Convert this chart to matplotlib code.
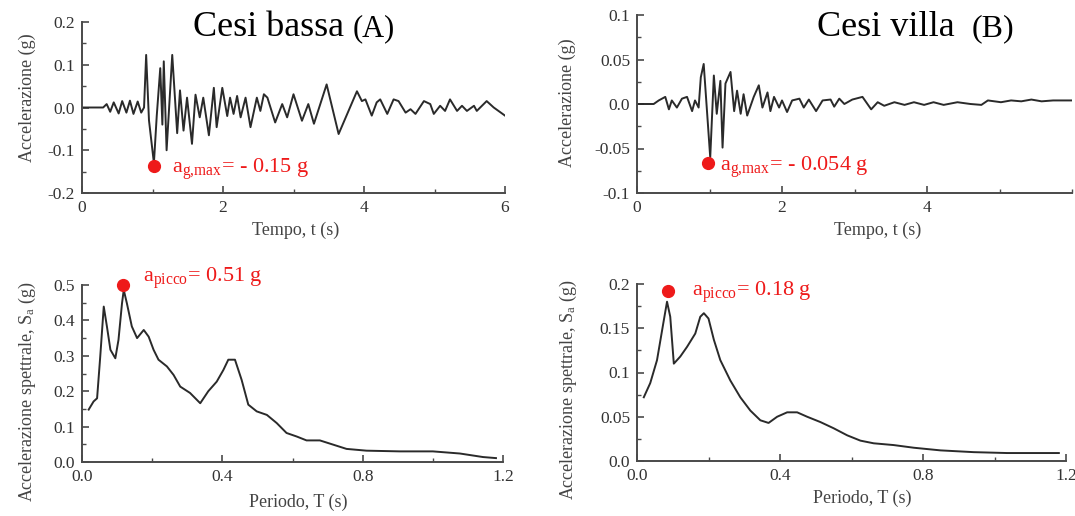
import matplotlib
matplotlib.use('Agg')
import matplotlib.pyplot as plt
from matplotlib.ticker import MultipleLocator

plt.rcParams['font.family'] = ['Liberation Serif', 'DejaVu Serif']
plt.rcParams['mathtext.fontset'] = 'custom'
plt.rcParams['mathtext.rm'] = 'Liberation Serif'
plt.rcParams['mathtext.it'] = 'Liberation Serif:italic'

# --- accelerogramma Cesi bassa (A)
t_a = [0.0, 0.30, 0.35, 0.40, 0.45, 0.52, 0.57, 0.63, 0.68, 0.73, 0.79, 0.84, 0.88,
       0.91, 0.95, 1.02, 1.06, 1.11, 1.14, 1.16, 1.20, 1.28, 1.35, 1.39, 1.44, 1.49,
       1.56, 1.61, 1.67, 1.72, 1.80, 1.87, 1.91, 1.99, 2.06, 2.10, 2.15, 2.20, 2.25,
       2.32, 2.39, 2.48, 2.53, 2.58, 2.63, 2.74, 2.84, 2.91, 3.00, 3.12, 3.21, 3.29,
       3.47, 3.64, 3.90, 3.97, 4.02, 4.11, 4.18, 4.23, 4.33, 4.42, 4.49, 4.59, 4.66,
       4.73, 4.85, 4.94, 4.99, 5.08, 5.15, 5.22, 5.32, 5.39, 5.46, 5.56, 5.60, 5.74,
       5.84, 6.00]
acc_a = [0.0, 0.0, 0.008, -0.010, 0.012, -0.014, 0.015, -0.012, 0.016, -0.015, 0.014,
         -0.012, 0.0, 0.123, -0.030, -0.130, -0.020, 0.092, -0.040, 0.108, -0.100, 0.123,
         -0.060, 0.040, -0.054, 0.023, -0.085, 0.030, -0.023, 0.023, -0.065, 0.046,
         -0.046, 0.046, -0.020, 0.023, -0.015, 0.027, -0.023, 0.023, -0.046, 0.023,
         -0.008, 0.031, 0.023, -0.035, 0.008, -0.023, 0.031, -0.031, 0.008, -0.038,
         0.054, -0.062, 0.038, 0.015, 0.019, -0.019, 0.012, 0.019, -0.015, 0.019, 0.015,
         -0.012, -0.004, -0.015, 0.015, 0.008, -0.015, 0.004, -0.008, 0.019, -0.008,
         0.004, -0.008, 0.004, -0.008, 0.015, 0.0, -0.019]

# --- accelerogramma Cesi villa (B)
t_b = [0.0, 0.23, 0.30, 0.39, 0.44, 0.48, 0.55, 0.62, 0.69, 0.76, 0.80, 0.85, 0.88,
       0.92, 1.01, 1.06, 1.10, 1.15, 1.18, 1.22, 1.29, 1.34, 1.38, 1.43, 1.47, 1.52,
       1.61, 1.68, 1.73, 1.80, 1.84, 1.89, 1.96, 2.00, 2.07, 2.14, 2.24, 2.30, 2.37,
       2.47, 2.56, 2.67, 2.72, 2.79, 2.86, 2.97, 3.11, 3.23, 3.32, 3.41, 3.55, 3.69,
       3.82, 3.96, 4.09, 4.23, 4.42, 4.60, 4.75, 4.84, 5.02, 5.16, 5.30, 5.44, 5.58,
       5.74, 6.00]
acc_b = [0.0, 0.0, 0.004, 0.008, -0.006, 0.004, -0.004, 0.006, 0.008, -0.008, 0.004,
         -0.004, 0.030, 0.045, -0.060, 0.032, -0.011, 0.026, -0.049, 0.023, 0.036,
         -0.008, 0.015, -0.011, 0.011, -0.013, 0.008, 0.021, -0.004, 0.013, -0.008,
         0.008, -0.004, 0.004, -0.009, 0.004, 0.006, -0.004, 0.005, -0.008, 0.004,
         0.005, -0.003, 0.006, 0.0, 0.005, 0.008, -0.006, 0.002, -0.002, 0.002, -0.001,
         0.002, -0.001, 0.002, -0.001, 0.002, 0.0, -0.001, 0.004, 0.002, 0.004, 0.003,
         0.005, 0.003, 0.004, 0.004]

# --- spettri di risposta
T_a = [0.019, 0.033, 0.043, 0.052, 0.062, 0.071, 0.081, 0.095, 0.104, 0.114, 0.119,
       0.128, 0.142, 0.157, 0.176, 0.190, 0.204, 0.218, 0.242, 0.261, 0.280, 0.308,
       0.337, 0.360, 0.384, 0.403, 0.417, 0.436, 0.455, 0.474, 0.498, 0.527, 0.555,
       0.583, 0.612, 0.640, 0.678, 0.716, 0.754, 0.811, 0.906, 1.000, 1.077, 1.143, 1.180]
Sa_a = [0.148, 0.171, 0.180, 0.298, 0.439, 0.383, 0.317, 0.293, 0.345, 0.448, 0.486,
        0.448, 0.383, 0.350, 0.373, 0.354, 0.317, 0.289, 0.270, 0.246, 0.213, 0.195,
        0.166, 0.200, 0.227, 0.260, 0.289, 0.289, 0.232, 0.162, 0.143, 0.133, 0.110,
        0.082, 0.072, 0.061, 0.061, 0.049, 0.037, 0.032, 0.030, 0.030, 0.024, 0.014, 0.011]

T_b = [0.019, 0.037, 0.056, 0.075, 0.084, 0.093, 0.103, 0.121, 0.140, 0.163, 0.177,
       0.187, 0.200, 0.215, 0.233, 0.261, 0.289, 0.317, 0.345, 0.368, 0.392, 0.420,
       0.448, 0.476, 0.513, 0.550, 0.588, 0.625, 0.662, 0.718, 0.774, 0.849, 0.942,
       1.035, 1.180]
Sa_b = [0.072, 0.088, 0.114, 0.159, 0.180, 0.163, 0.110, 0.118, 0.129, 0.144, 0.163,
        0.167, 0.161, 0.137, 0.114, 0.091, 0.072, 0.057, 0.046, 0.043, 0.050, 0.055,
        0.055, 0.050, 0.044, 0.037, 0.029, 0.023, 0.020, 0.018, 0.015, 0.012, 0.010,
        0.009, 0.009]

# punti evidenziati (x, y)
pk_a_acc = (1.02, -0.137)
pk_b_acc = (0.98, -0.066)
pk_a_spec = (0.117, 0.50)
pk_b_spec = (0.087, 0.192)

W, H = 1075, 516
fig = plt.figure(figsize=(W / 100, H / 100), dpi=100)

def px_axes(x0, y0, x1, y1):
    return fig.add_axes([x0 / W, 1 - y1 / H, (x1 - x0) / W, (y1 - y0) / H])

LC = '#2a2a2a'
RED = '#ee1a1a'
GR = '#333333'

def style(ax, xmaj, xmin, ymaj, ymin, xlab, ylab, yfmt):
    for s in ['top', 'right']:
        ax.spines[s].set_visible(False)
    for s in ['left', 'bottom']:
        ax.spines[s].set_color('#4a4a4a')
        ax.spines[s].set_linewidth(1.4)
    ax.xaxis.set_major_locator(MultipleLocator(xmaj))
    ax.xaxis.set_minor_locator(MultipleLocator(xmin))
    ax.yaxis.set_major_locator(MultipleLocator(ymaj))
    ax.yaxis.set_minor_locator(MultipleLocator(ymin))
    ax.tick_params(which='major', direction='in', length=5, width=1.2, color='#4a4a4a',
                   labelsize=12.5, labelcolor=GR, pad=5)
    ax.tick_params(which='minor', direction='in', length=3, width=1.0, color='#4a4a4a')
    ax.yaxis.set_major_formatter(plt.FuncFormatter(lambda v, p: yfmt.format(v)))
    ax.set_xlabel(xlab, fontsize=13, color='#444444')
    ax.set_ylabel(ylab, fontsize=13, color='#444444')
    ax.xaxis.label.set_va('center')
    ax.yaxis.label.set_va('center')
    ax.patch.set_alpha(0)

# Cesi bassa - accelerogramma
ax1 = px_axes(82, 22, 505, 193)
ax1.plot(t_a, acc_a, color=LC, lw=1.4)
ax1.set_xlim(0, 6)
ax1.set_ylim(-0.2, 0.2)
style(ax1, 2, 1, 0.1, 0.05, 'Tempo, t (s)', 'Accelerazione (g)', '{:.1f}')
ax1.xaxis.set_major_formatter(plt.FuncFormatter(lambda v, p: '%d' % v))
ax1.xaxis.set_label_coords(0.504, -0.216)
ax1.yaxis.set_label_coords(-0.13, 0.56)
ax1.plot(*pk_a_acc, 'o', color=RED, ms=8.5, clip_on=False)
ax1.text(1.28, -0.153, r'a$_{\mathregular{g{,}max}}$= - 0.15 g', color=RED, fontsize=16)

# Cesi villa - accelerogramma
ax2 = px_axes(637, 15, 1072, 193)
ax2.plot(t_b, acc_b, color=LC, lw=1.4)
ax2.set_xlim(0, 6)
ax2.set_ylim(-0.1, 0.1)
style(ax2, 2, 1, 0.05, 0.025, 'Tempo, t (s)', 'Accelerazione (g)', '{:.2f}')
ax2.set_xticks([0, 2, 4])
ax2.xaxis.set_major_formatter(plt.FuncFormatter(lambda v, p: '%d' % v))
ax2.yaxis.set_major_formatter(plt.FuncFormatter(
    lambda v, p: '{:.1f}'.format(v) if abs(abs(v) - 0.1) < 1e-6 or abs(v) < 1e-6 else '{:.2f}'.format(v)))
ax2.xaxis.set_label_coords(0.554, -0.208)
ax2.yaxis.set_label_coords(-0.159, 0.51)
ax2.plot(*pk_b_acc, 'o', color=RED, ms=8.5, clip_on=False)
ax2.text(1.14, -0.0755, r'a$_{\mathregular{g{,}max}}$= - 0.054 g', color=RED, fontsize=16)

# Cesi bassa - spettro
ax3 = px_axes(82, 285, 503, 462)
ax3.plot(T_a, Sa_a, color=LC, lw=1.4)
ax3.set_xlim(0, 1.2)
ax3.set_ylim(0, 0.5)
style(ax3, 0.4, 0.2, 0.1, 0.05, 'Periodo, T (s)', r'Accelerazione spettrale, S$_{\mathregular{a}}$ (g)', '{:.1f}')
ax3.xaxis.set_major_formatter(plt.FuncFormatter(lambda v, p: '%.1f' % v))
ax3.xaxis.set_label_coords(0.513, -0.226)
ax3.yaxis.set_label_coords(-0.13, 0.395)
ax3.plot(*pk_a_spec, 'o', color=RED, ms=8.5, clip_on=False)
ax3.text(0.174, 0.508, r'a$_{\mathregular{picco}}$= 0.51 g', color=RED, fontsize=16)

# Cesi villa - spettro
ax4 = px_axes(637, 284, 1066, 461)
ax4.plot(T_b, Sa_b, color=LC, lw=1.4)
ax4.set_xlim(0, 1.2)
ax4.set_ylim(0, 0.2)
style(ax4, 0.4, 0.2, 0.05, 0.025, 'Periodo, T (s)', r'Accelerazione spettrale, S$_{\mathregular{a}}$ (g)', '{:.2f}')
ax4.yaxis.set_major_formatter(plt.FuncFormatter(
    lambda v, p: '{:.1f}'.format(v) if abs(v - 0.1) < 1e-6 or abs(v - 0.2) < 1e-6 or abs(v) < 1e-6 else '{:.2f}'.format(v)))
ax4.xaxis.set_major_formatter(plt.FuncFormatter(lambda v, p: '%.1f' % v))
ax4.xaxis.set_label_coords(0.524, -0.209)
ax4.yaxis.set_label_coords(-0.159, 0.40)
ax4.plot(*pk_b_spec, 'o', color=RED, ms=8.5, clip_on=False)
ax4.text(0.154, 0.186, r'a$_{\mathregular{picco}}$= 0.18 g', color=RED, fontsize=16)

# titoli
fig.text(193 / W, 1 - 36 / H, 'Cesi bassa', fontsize=26, va='baseline')
fig.text(353 / W, 1 - 36 / H, '(A)', fontsize=22, va='baseline')
fig.text(817 / W, 1 - 36 / H, 'Cesi villa', fontsize=26, va='baseline')
fig.text(972 / W, 1 - 36 / H, '(B)', fontsize=23, va='baseline')

fig.savefig('out.png', dpi=100)
